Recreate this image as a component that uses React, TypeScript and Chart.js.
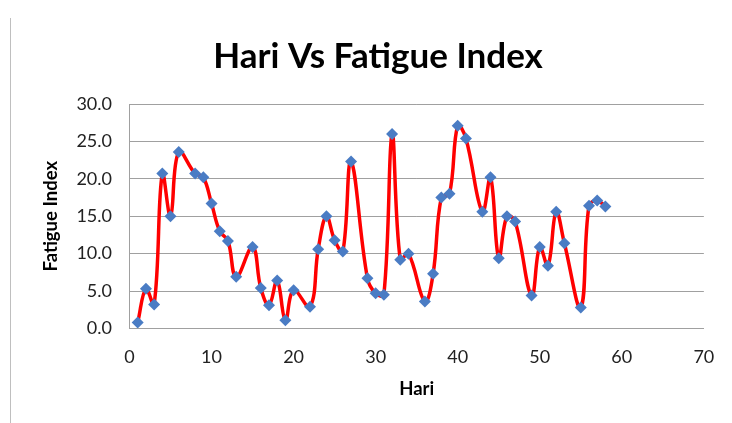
import React, { useEffect, useRef } from "react";
import { Chart, registerables } from "chart.js";

Chart.register(...registerables);

const days: number[] = [1, 2, 3, 4, 5, 6, 8, 9, 10, 11, 12, 13, 15, 16, 17, 18, 19, 20, 22, 23, 24, 25, 26, 27, 29, 30, 31, 32, 33, 34, 36, 37, 38, 39, 40, 41, 43, 44, 45, 46, 47, 49, 50, 51, 52, 53, 55, 56, 57, 58];
const fatigue: number[] = [0.8, 5.3, 3.2, 20.7, 15.0, 23.6, 20.7, 20.2, 16.7, 13.0, 11.7, 6.9, 10.9, 5.4, 3.1, 6.4, 1.1, 5.1, 2.9, 10.6, 15.0, 11.8, 10.3, 22.3, 6.7, 4.7, 4.5, 26.0, 9.2, 10.0, 3.6, 7.3, 17.5, 18.0, 27.1, 25.4, 15.6, 20.2, 9.4, 15.0, 14.3, 4.4, 10.9, 8.4, 15.6, 11.4, 2.8, 16.4, 17.1, 16.3];

const chartTitle = "Hari Vs Fatigue Index";
const xTitle = "Hari";
const yTitle = "Fatigue Index";
const xMin = 0, xMax = 70, xStep = 10;
const yMin = 0, yMax = 30, yStep = 5;

const FONT = "Lato, 'Open Sans', sans-serif";

export default function App() {
  const ref = useRef<HTMLCanvasElement>(null);
  useEffect(() => {
    if (!ref.current) return;
    const chart = new Chart(ref.current, {
      type: "scatter",
      data: {
        datasets: [
          {
            label: yTitle,
            data: days.map((d, i) => ({ x: d, y: fatigue[i] })),
            showLine: true,
            borderColor: "#FF0000",
            borderWidth: 3.5,
            tension: 0.4,
            pointStyle: "rectRot",
            pointRadius: 6,
            pointBackgroundColor: "#4A7CC4",
            pointBorderColor: "#4A7CC4",
            pointBorderWidth: 0,
          },
        ],
      },
      options: {
        animation: false,
        responsive: false,
        maintainAspectRatio: false,
        layout: { padding: { left: 45, right: 21, top: 0, bottom: 0 } },
        plugins: {
          legend: { display: false },
          tooltip: { enabled: false },
          title: {
            display: true,
            text: chartTitle,
            color: "#000",
            font: { family: FONT, size: 35, weight: "bold" },
            padding: { top: 36, bottom: 26 },
          },
        },
        scales: {
          x: {
            type: "linear",
            min: xMin,
            max: xMax,
            ticks: {
              stepSize: xStep,
              color: "#222",
              font: { family: FONT, size: 18 },
              padding: 17.7,
            },
            grid: { display: false, drawTicks: false },
            border: { display: true, color: "#A0A0A0", width: 1 },
            title: {
              display: true,
              text: xTitle,
              color: "#000",
              font: { family: FONT, size: 18.5, weight: "bold" },
              padding: { top: 0, bottom: 22.9 },
            },
            afterFit: (s: any) => {
              s.height = 94.5;
            },
          },
          y: {
            min: yMin,
            max: yMax,
            ticks: {
              stepSize: yStep,
              color: "#222",
              font: { family: FONT, size: 18 },
              padding: 17.5,
              callback: (v: any) => Number(v).toFixed(1),
            },
            grid: { color: "#A0A0A0", lineWidth: 1, drawTicks: false },
            border: { display: true, color: "#A0A0A0", width: 1 },
            title: {
              display: true,
              text: yTitle,
              color: "#000",
              font: { family: FONT, size: 18.5, weight: "bold" },
              padding: { top: -5.1, bottom: 0 },
            },
            afterFit: (s: any) => {
              s.width = 84.5;
            },
          },
        },
      },
    });
    return () => chart.destroy();
  }, []);
  return (
    <div style={{ position: "fixed", left: 0, top: 0, width: 732, height: 423, background: "#fff" }}>
      <canvas ref={ref} width={732} height={423} style={{ display: "block" }} />
      <div style={{ position: "absolute", left: 10, top: 18, width: 1, height: 405, background: "#BFBFBF" }} />
    </div>
  );
}
